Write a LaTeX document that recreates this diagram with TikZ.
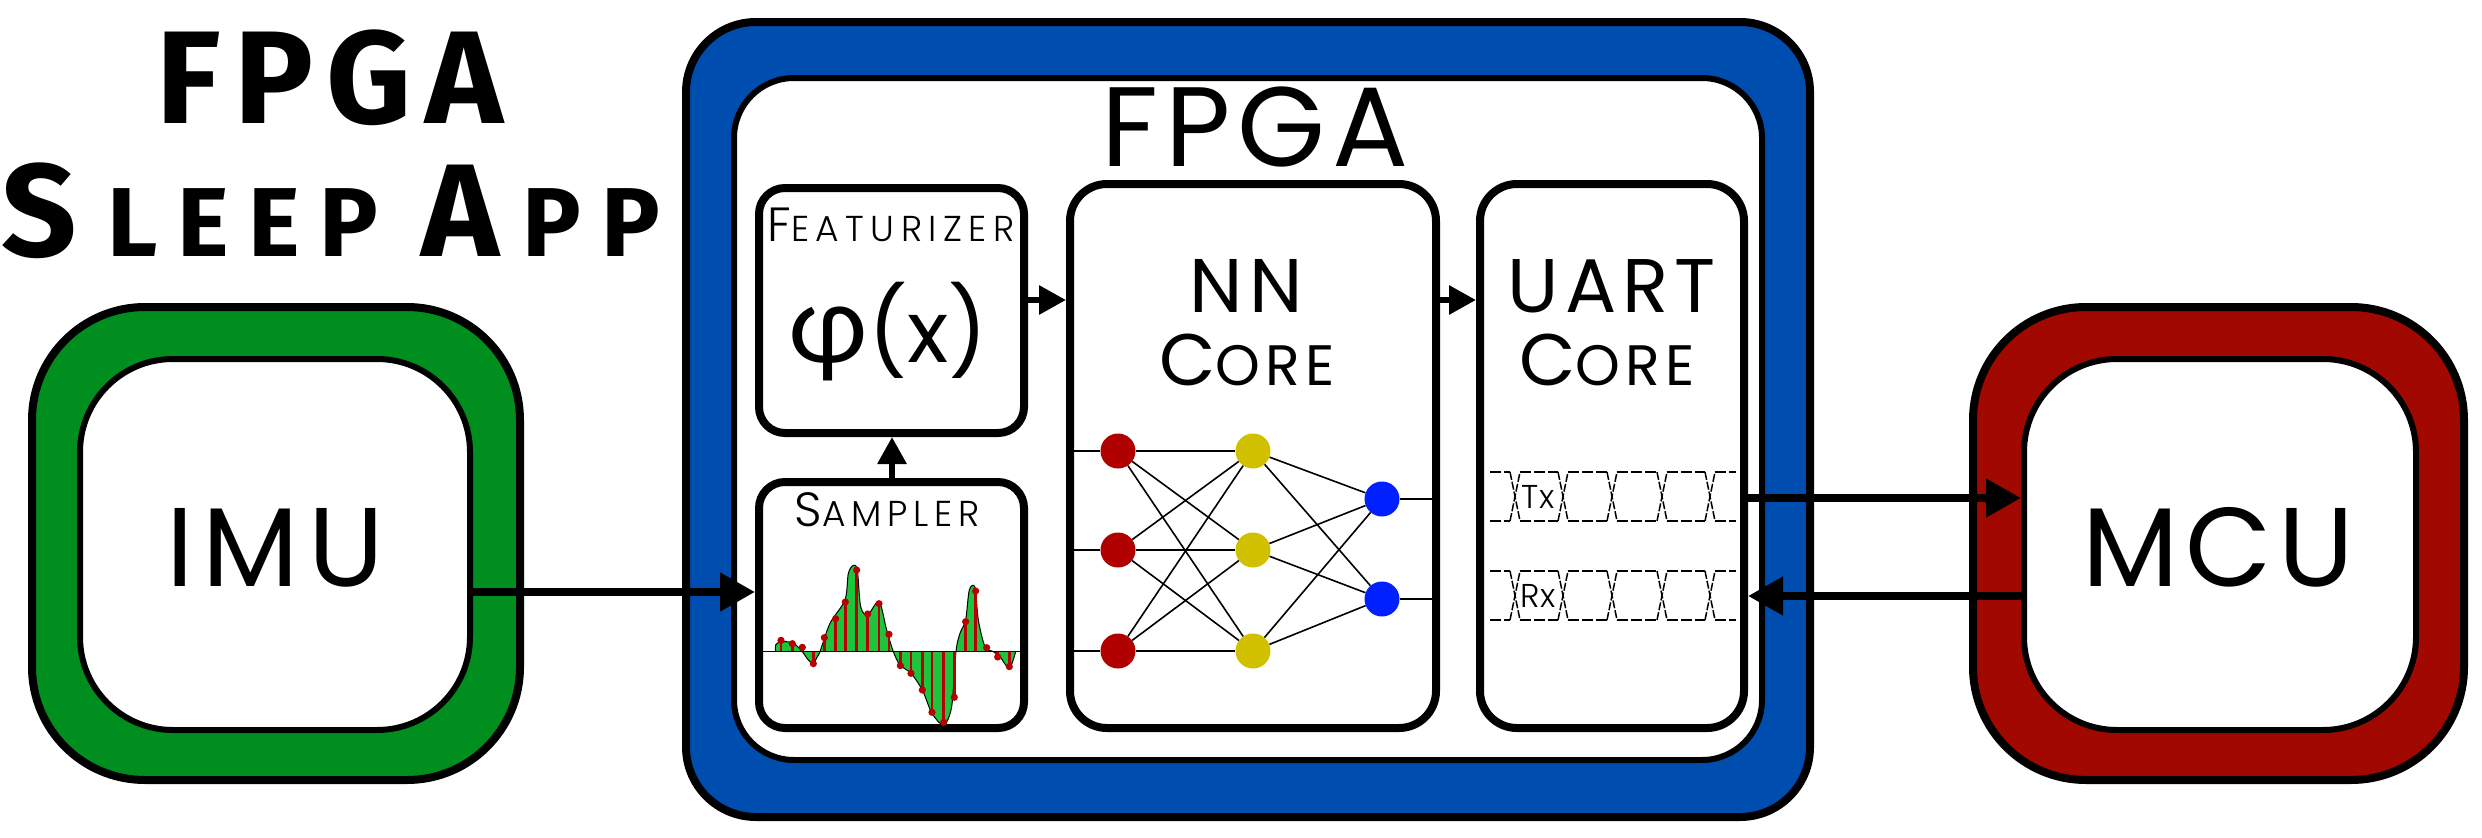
\documentclass[tikz,border=0pt]{standalone}
\usepackage{fontspec}
\usepackage{tikz}
\usetikzlibrary{arrows.meta}
\setmainfont{Poppins Light}
\newfontfamily\regfont{Poppins}
\newfontfamily\greekfont{Lato}
\newfontfamily\headfont{Fira Sans}
\definecolor{imugreen}{HTML}{008F1E}
\definecolor{fpgablue}{HTML}{004DB0}
\definecolor{mcured}{HTML}{A00800}
\definecolor{wavegreen}{HTML}{1DC43C}
\definecolor{stemred}{HTML}{B80000}
\definecolor{nnred}{HTML}{B00000}
\definecolor{nnyellow}{HTML}{D0C000}
\definecolor{nnblue}{HTML}{0020FF}
\newcommand{\fs}[2]{{\fontsize{#1}{#1}\selectfont #2}}
\tikzset{
  shell/.style={draw=black, line width=8pt, inner sep=0pt, outer sep=0pt, anchor=north west},
  panel/.style={draw=black, fill=white, line width=6pt, inner sep=0pt, anchor=north west},
  block/.style={draw=black, fill=white, line width=8pt, inner sep=0pt, anchor=north west, rounded corners=26pt},
  lab/.style={inner sep=0pt, anchor=base, text=black},
  big/.style={inner sep=0pt, anchor=base, text=black, font=\regfont},
  head/.style={inner sep=0pt, anchor=base, text=black, font=\headfont\bfseries},
  bus/.style={draw=black, line width=8pt, -{Triangle[length=35pt,width=37pt]}},
  link/.style={draw=black, line width=6pt, -{Triangle[length=27pt,width=28pt]}},
  neuron/.style={circle, minimum size=35pt, inner sep=0pt},
  wire/.style={draw=black, line width=1.6pt},
  sig/.style={draw=black, line width=1.5pt, dash pattern=on 11pt off 3pt},
  stem/.style={draw=stemred, line width=2.6pt},
}
\begin{document}
\begin{tikzpicture}[x=1pt,y=-1pt]
  \useasboundingbox (0,0) rectangle (2482,838);

  % title
  \node[head] (title) at (330,123) {\fs{132}{\addfontfeatures{LetterSpace=10}FPGA}};
  \node[head] (subtitle) at (331,256) {\addfontfeatures{LetterSpace=20}\fs{132}{S}\kern30pt\fs{98}{LEEP }\fs{132}{A}\kern24pt\fs{98}{PP}};

  % imu
  \node[shell, fill=imugreen, rounded corners=113pt, minimum width=488pt, minimum height=473pt] (imuout) at (32,307) {};
  \node[panel, rounded corners=93pt, minimum width=390pt, minimum height=371pt] (imu) at (77,356) {};
  \node[big] (imulab) at (275,586) {\fs{112}{\addfontfeatures{LetterSpace=8}IMU}};

  % mcu
  \node[shell, fill=mcured, rounded corners=113pt, minimum width=491pt, minimum height=473pt] (mcuout) at (1973,307) {};
  \node[panel, rounded corners=93pt, minimum width=392pt, minimum height=371pt] (mcu) at (2021,356) {};
  \node[big] (mculab) at (2218,586) {\fs{112}{\addfontfeatures{LetterSpace=6}MCU}};

  % fpga
  \node[shell, fill=fpgablue, rounded corners=70pt, minimum width=1124pt, minimum height=795pt] (fpgaout) at (686,22) {};
  \node[panel, rounded corners=60pt, minimum width=1028pt, minimum height=682pt] (fpga) at (731,75) {};
  \node[big] (fpgalab) at (1255,166) {\fs{113}{\addfontfeatures{LetterSpace=6}FPGA}};

  \node[block, minimum width=265pt, minimum height=245pt] (feat) at (755,184) {};
  \node[block, minimum width=265pt, minimum height=246pt] (samp) at (755,478) {};
  \node[block, rounded corners=37pt, minimum width=366pt, minimum height=544pt] (nn) at (1066,180) {};
  \node[block, rounded corners=37pt, minimum width=264pt, minimum height=544pt] (uart) at (1476,180) {};

  \node[lab] (featlab) at (891,241) {\addfontfeatures{LetterSpace=18}\fs{48}{F}\fs{36}{EATURIZER}};
  \node[big] (philab) at (888,362) {\fs{86}{{\greekfont\fontsize{108}{108}\selectfont φ}(x)}};
  \node[lab] (samplab) at (887,526) {\addfontfeatures{LetterSpace=16}\fs{48}{S}\fs{36}{AMPLER}};
  \node[big] (nnlab) at (1246,312) {\fs{76}{\addfontfeatures{LetterSpace=8}NN}};
  \node[big] (corelab) at (1247,385) {\addfontfeatures{LetterSpace=9}\fs{73}{C}\fs{57}{ORE}};
  \node[big] (uartlab) at (1612,312) {\fs{76}{\addfontfeatures{LetterSpace=8}UART}};
  \node[big] (ucorelab) at (1607,385) {\addfontfeatures{LetterSpace=9}\fs{73}{C}\fs{57}{ORE}};

  % sampled waveform, zoomed units
  \begin{scope}[shift={(730,460)},x=0.3333pt,y=-0.3333pt]
    \draw[fill=wavegreen, draw=black, line width=1pt] plot[smooth, tension=0.5] coordinates {
      (137,575) (137,555) (153,545) (187,548) (205,562) (217,575) (235,600) (250,610) (262,590)
      (270,575) (300,490) (345,420) (355,340) (370,316) (382,330) (392,440) (413,465) (447,425)
      (470,510) (490,575) (510,615) (543,640) (577,690) (606,760) (641,795) (665,740) (678,575)
      (690,520) (707,480) (718,390) (735,382) (745,480) (765,560) (790,575) (810,590) (838,625) (857,575)};
    \foreach \sx/\sy in {153/541,187/551,217/562,250/611,283/533,317/476,346/426,380/330,413/462,447/431,
      477/523,511/617,543/640,577/690,606/757,641/787,673/712,707/485,737/393,770/563,803/591,838/620}{
      \draw[stem] (\sx,575) -- (\sx,\sy);
      \fill[stemred] (\sx,\sy) circle (3.6pt);
    }
    \draw[black, line width=1.6pt] (97,575) -- (872,575);
  \end{scope}

  % network
  \foreach \n/\y in {1/451,2/550,3/651}{
    \node[neuron, fill=nnred] (r\n) at (1118,\y) {};
    \node[neuron, fill=nnyellow] (y\n) at (1253,\y) {};
    \draw[wire] (nn.west |- r\n) -- (r\n);
  }
  \node[neuron, fill=nnblue] (b1) at (1382,499) {};
  \node[neuron, fill=nnblue] (b2) at (1382,599) {};
  \foreach \a in {1,2,3}{
    \foreach \b in {1,2,3}
      \draw[wire] (r\a) -- (y\b);
    \foreach \b in {1,2}
      \draw[wire] (y\a) -- (b\b);
  }
  \foreach \b in {1,2}
    \draw[wire] (b\b) -- (nn.east |- b\b);

  % tx rx traces
  \foreach \t/\b in {472/521,571/620}{
    \draw[sig] (1490,\t) -- (1510,\t) (1520,\t) -- (1558,\t) (1568,\t) -- (1607,\t) (1617,\t) -- (1657,\t) (1667,\t) -- (1705,\t) (1715,\t) -- (1736,\t);
    \draw[sig] (1490,\b) -- (1510,\b) (1520,\b) -- (1558,\b) (1568,\b) -- (1607,\b) (1617,\b) -- (1657,\b) (1667,\b) -- (1705,\b) (1715,\b) -- (1736,\b);
    \foreach \c in {1515,1563,1612,1662,1710}{
      \draw[sig, dash pattern=on 8pt off 2pt] (\c-5,\t) -- (\c+5,\b);
      \draw[sig, dash pattern=on 8pt off 2pt] (\c-5,\b) -- (\c+5,\t);
    }
  }
  \node[lab] (txlab) at (1538,508) {\fs{33}{Tx}};
  \node[lab] (rxlab) at (1538,607) {\fs{33}{Rx}};

  % connectors
  \coordinate (imuport) at (0,592);
  \coordinate (txport) at (0,498);
  \coordinate (rxport) at (0,596);
  \coordinate (upport) at (892,0);
  \coordinate (lnkport) at (0,300);
  \draw[bus] (imu.east |- imuport) -- (samp.west |- imuport);
  \draw[bus] (uart.east |- txport) -- (mcu.west |- txport);
  \draw[bus] ([xshift=6pt]mcu.west |- rxport) -- (uart.east |- rxport);
  \draw[link] (samp.north -| upport) -- (feat.south -| upport);
  \draw[link] (feat.east |- lnkport) -- (nn.west |- lnkport);
  \draw[link] (nn.east |- lnkport) -- (uart.west |- lnkport);
\end{tikzpicture}
\end{document}
